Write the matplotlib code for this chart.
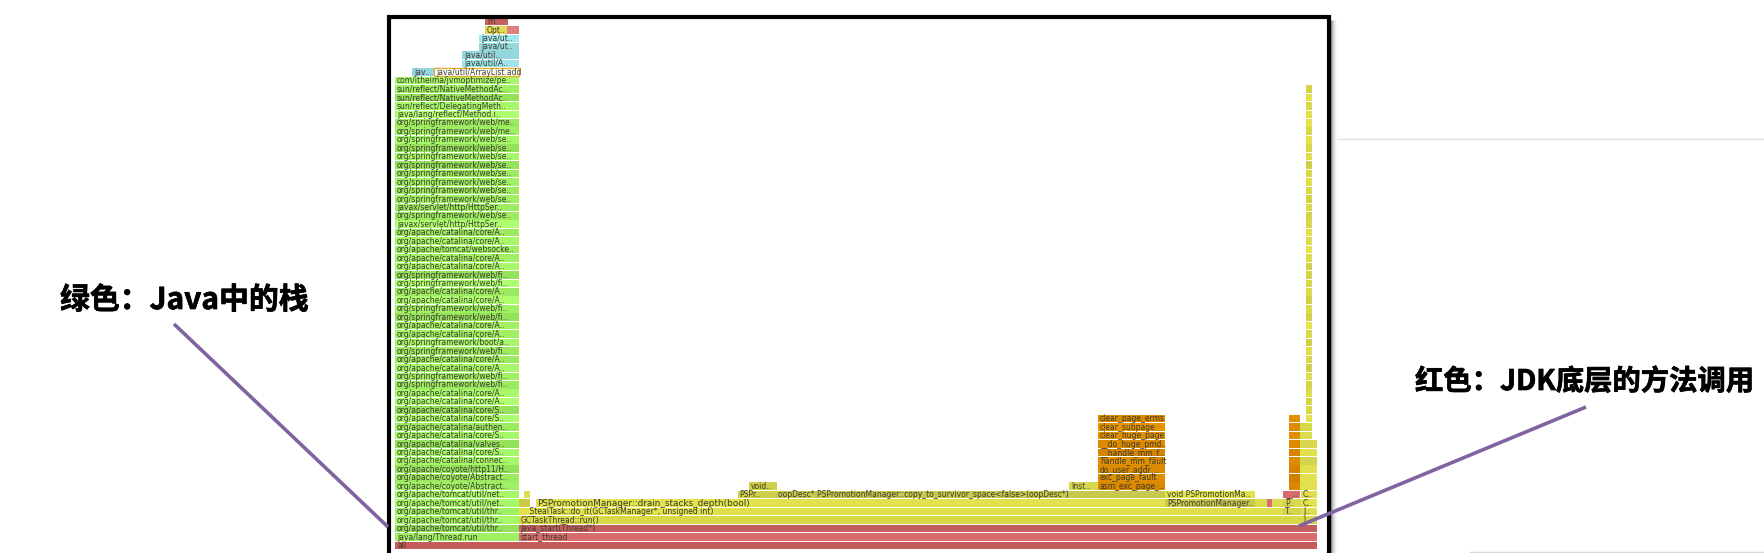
#!/usr/bin/env python
# -*- coding: utf-8
# Flame graph screenshot with two callouts, redrawn with matplotlib.

import matplotlib
matplotlib.use('Agg')
import matplotlib.pyplot as plt
import matplotlib.patheffects as pe

plt.rcParams['font.family'] = ['Noto Sans CJK SC', 'DejaVu Sans']

WIDTH = 1764
HEIGHT = 553

SF = 'org/springframework/web/'
CAT = 'org/apache/catalina/'
TOM = 'org/apache/tomcat/util/'
COY = 'org/apache/coyote/'

# green java stack, bottom up, starts on level 1
green_labels = [
    'java/lang/Thread.run', TOM + 'thr..', TOM + 'thr..', TOM + 'thr..', TOM + 'net..', TOM + 'net..',
    COY + 'Abstract..', COY + 'Abstract..', COY + 'http11/H..', CAT + 'connec..', CAT + 'core/S..',
    CAT + 'valves..', CAT + 'core/S..', CAT + 'authen..', CAT + 'core/S..', CAT + 'core/S..',
    CAT + 'core/A..', CAT + 'core/A..', SF + 'fi..', SF + 'fi..', CAT + 'core/A..', CAT + 'core/A..',
    SF + 'fi..', 'org/springframework/boot/a..', CAT + 'core/A..', CAT + 'core/A..', SF + 'fi..', SF + 'fi..',
    CAT + 'core/A..', CAT + 'core/A..', SF + 'fi..', SF + 'fi..', CAT + 'core/A..', CAT + 'core/A..',
    'org/apache/tomcat/websocke..', CAT + 'core/A..', CAT + 'core/A..', 'javax/servlet/http/HttpSer..',
    SF + 'se..', 'javax/servlet/http/HttpSer..', SF + 'se..', SF + 'se..', SF + 'se..', SF + 'se..',
    SF + 'se..', SF + 'se..', SF + 'se..', SF + 'se..', SF + 'me..', SF + 'me..',
    'java/lang/reflect/Method.i..', 'sun/reflect/DelegatingMeth..', 'sun/reflect/NativeMethodAc..',
    'sun/reflect/NativeMethodAc..', 'com/itheima/jvmoptimize/pe..',
]
green_shades = [
    '#a0f064', '#94e25a', '#a6f869', '#a0f064', '#a6f869', '#a6f869',
    '#a0f064', '#9cea60', '#94e25a', '#a6f869', '#a6f869',
    '#94e25a', '#a6f869', '#9cea60', '#aafc6c', '#94e25a',
    '#aefe70', '#a6f869', '#9cea60', '#a0f064', '#a6f869', '#9cea60',
    '#9cea60', '#a6f869', '#a0f064', '#a0f064', '#94e25a', '#a0f064',
    '#aefe70', '#9cea60', '#aefe70', '#94e25a', '#a6f869', '#a0f064',
    '#a0f064', '#a6f869', '#9cea60', '#aefe70',
    '#9cea60', '#9ceb60', '#a0f064', '#9cea60', '#a0f064', '#9cea60',
    '#94e25a', '#a6f869', '#94e25a', '#a6f869', '#a0f064', '#9cea60',
    '#aefe70', '#a6f869', '#94e25a', '#a0f064', '#a6f869',
]
green_left = 395
green_right = 518.5

# the other frames, one entry per box
other_levels = [0, 1, 2, 3, 3, 4, 4, 4,
                5, 5, 5, 5, 5, 5, 5, 5,
                6, 6, 6, 6, 6, 6,
                7, 7, 7, 8, 9, 10, 11, 12, 13, 14, 15,
                56, 56, 57, 58, 59, 60, 61, 61, 62]
other_starts = [395, 518.5, 518.5, 518.5, 1301, 518.5, 1283, 1301,
                518.5, 535.5, 1165, 1255, 1266.5, 1272, 1283, 1301,
                524, 737.5, 776, 1165, 1283, 1301,
                749, 1069, 1098, 1098, 1098, 1098, 1098, 1098, 1098, 1098, 1098,
                412, 434, 462, 462, 479, 479, 485, 507, 485]
other_ends = [1316.5, 1316.5, 1316.5, 1301, 1316.5, 1283, 1301, 1316.5,
              530, 1165, 1255, 1266.5, 1272, 1283, 1301, 1316.5,
              530, 776, 1165, 1255, 1300, 1316.5,
              777, 1098, 1165, 1165, 1165, 1165, 1165, 1165, 1165, 1165, 1165,
              434, 519, 519, 519, 519, 519, 507, 518.5, 507.5]
other_labels = ['all', 'start_thread', 'java_start(Thread*)', 'GCTaskThread::run()', 'J..',
                '    StealTask::do_it(GCTaskManager*, unsigned int)', 'T..', 'J..',
                '', 'PSPromotionManager::drain_stacks_depth(bool)', 'PSPromotionManager..', '', '', '', 'P..', 'C..',
                '', 'PSPr..', 'oopDesc* PSPromotionManager::copy_to_survivor_space<false>(oopDesc*)',
                'void PSPromotionMa..', '__..', 'C..',
                'void..', 'Inst..', 'asm_exc_page_..', 'exc_page_fault', 'do_user_addr_..', 'handle_mm_fault',
                '__handle_mm_f..', '__do_huge_pmd..', 'clear_huge_page', 'clear_subpage', 'clear_page_erms',
                'jav..', 'java/util/ArrayList.add', 'java/util/A..', 'java/util..', 'java/ut..', 'java/ut..',
                'Opt..', '', 'm..']
other_colors = ['#c45a5a', '#d66c6c', '#c45f5f', '#d8d848', '#d8d848', '#e0e04c', '#d4d44c', '#dede50',
                '#c9c94a', '#e2e24e', '#c8c84e', '#dcdc50', '#dc6870', '#dcdc50', '#d8d84c', '#e2e24e',
                '#dede50', '#cfcf4c', '#c8c84e', '#e2e24e', '#d86a6a', '#dede50',
                '#cfcf4c', '#d8d850', '#d98800', '#de8e00', '#dc8a00', '#e09000', '#d48400', '#dc8a00',
                '#e09000', '#e49400', '#dc8a00',
                '#93d5e0', '#ffffff', '#9de5ec', '#95d6de', '#95d8de', '#9fe8ee', '#e3d955', '#e08080', '#c86060']

# orange strip and yellow towers on the right
strip_levels = [7, 8, 9, 10, 11, 12, 13, 14, 15]
strip_colors = ['#d98800', '#d08000', '#d68400', '#dc8a00', '#d88600', '#dc8a00', '#e09000', '#dc8a00', '#e09000']

tower_levels = [7, 8, 9, 10, 11, 12, 13, 14]
tower_ends = [1316.5, 1316.5, 1316.5, 1316.5, 1316.5, 1316.5, 1311.5, 1311.5]
tower_colors = ['#e0e04c', '#e2e24e', '#e0e04c', '#d4d44c', '#e0e04c', '#d8d84c', '#dcdc50', '#d8d84c']

thin_colors = ['#e2e24e', '#d8d84c', '#d4d44c', '#dcdc50', '#d4d44c', '#dcdc50', '#cfcf4c', '#d8d84c',
               '#dede50', '#cfcf4c', '#d8d84c', '#e4e44e', '#d2d24a', '#dcdc50', '#cfcf4c', '#dcdc50',
               '#d8d84c', '#d4d44c', '#d0d04a', '#dcdc50', '#e4e44e', '#dcdc50', '#e2e24e', '#d8d84c',
               '#d4d44c', '#dcdc50', '#d2d24a', '#d8d84c', '#e0e04c', '#d8d84c', '#cfcf4c', '#dede50',
               '#d8d84c', '#e2e24e', '#d8d84c', '#e4e44e', '#e0e04c', '#d8d84c', '#e2e24e', '#d4d44c']
thin_start = 1305.5
thin_end = 1311.5

caption_green = '绿色：Java中的栈'
caption_red = '红色：JDK底层的方法调用'


def draw_box(ax, level, start, end, color, label=''):
    ax.barh(level + 0.47, end - start, left=start, height=0.9, color=color, linewidth=0)
    if label:
        # this one label runs wider than the rest in the source
        size = 6.4 if 'drain_stacks' in label else 5.5
        ax.text(start + 2, level + 0.45, label, fontsize=size, color='#3c3c2c', va='center', ha='left',
                family='DejaVu Sans')


fig = plt.figure(figsize=(WIDTH / 100, HEIGHT / 100), dpi=100)

# y axis is the stack level: bottom of a level sits at 549.3 - 8.45 * level pixels
ax = fig.add_axes([0, 0, 1, 1])
ax.set_xlim(0, WIDTH)
ax.set_ylim((549.3 - HEIGHT) / 8.45, 549.3 / 8.45)
ax.axis('off')

for i in range(len(green_labels)):
    draw_box(ax, i + 1, green_left, green_right, green_shades[i], green_labels[i])

for i in range(len(other_levels)):
    draw_box(ax, other_levels[i], other_starts[i], other_ends[i], other_colors[i], other_labels[i])

for i in range(len(strip_levels)):
    draw_box(ax, strip_levels[i], 1289, 1300, strip_colors[i])
for i in range(len(tower_levels)):
    draw_box(ax, tower_levels[i], 1300, tower_ends[i], tower_colors[i])
for i in range(len(thin_colors)):
    draw_box(ax, 15 + i, thin_start, thin_end, thin_colors[i])

# selected frame gets an orange outline
ax.barh(56 + 0.47, 519 - 434, left=434, height=0.94, color='none', edgecolor='#e8b030', linewidth=1)

# page furniture in pixel coordinates
over = fig.add_axes([0, 0, 1, 1])
over.set_xlim(0, WIDTH)
over.set_ylim(HEIGHT, 0)
over.axis('off')
over.patch.set_alpha(0)

over.plot([1330, WIDTH], [138.5, 138.5], color='#e2e2e2', lw=1)
over.plot([1470, WIDTH], [552, 552], color='#d8d8d8', lw=1)

# soft shadow beside the frame
for i, c in enumerate(['#8c8c8c', '#b0b0b0', '#cccccc', '#e0e0e0', '#eeeeee', '#f7f7f7']):
    over.plot([1331 + i, 1331 + i], [20, HEIGHT], color=c, lw=1, solid_capstyle='butt')

over.plot([388.5, 388.5, 1328.5, 1328.5], [HEIGHT, 16.5, 16.5, HEIGHT], color='black', lw=3,
          solid_joinstyle='miter', solid_capstyle='butt')

over.plot([174, 388], [324, 527], color='#8064a2', lw=2.6, solid_capstyle='butt')
over.plot([1586, 1299], [407, 526], color='#8064a2', lw=2.6, solid_capstyle='butt')

# the source captions are heavier than Noto bold, a thin stroke makes up for it
heavy = [pe.withStroke(linewidth=0.5, foreground='black')]
over.text(60, 300, caption_green, fontsize=21.5, fontweight='bold', color='black', va='center', ha='left',
          path_effects=heavy)
over.text(1415, 382, caption_red, fontsize=20.4, fontweight='bold', color='black', va='center', ha='left',
          path_effects=heavy)

fig.savefig('out.png', dpi=100, facecolor='white')
